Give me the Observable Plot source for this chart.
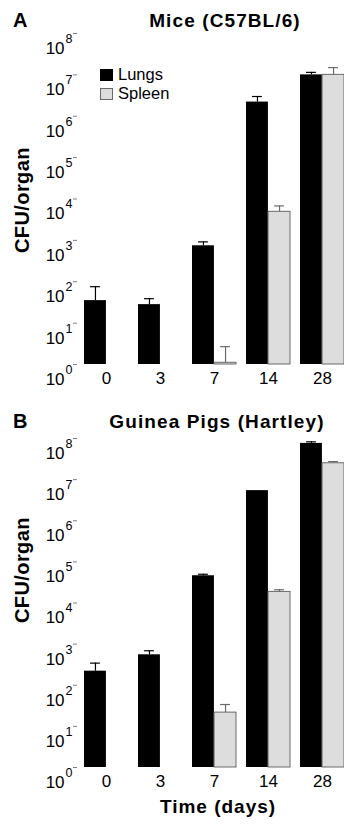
<!DOCTYPE html>
<html>
<head>
<meta charset="utf-8">
<script src="https://cdn.jsdelivr.net/npm/d3@7"></script>
<script src="https://cdn.jsdelivr.net/npm/@observablehq/plot@0.6"></script>
<style>
  body { margin: 0; background: #fff; }
  #wrap { position: relative; width: 344px; height: 825px; overflow: hidden; font-family: "Liberation Sans", Arial, Helvetica, sans-serif; color: #000; }
  .abs { position: absolute; white-space: nowrap; }
  .title { font-weight: bold; font-size: 19px; line-height: 19px; letter-spacing: 1.1px; transform: translateX(-50%); }
  .letter { font-weight: bold; font-size: 20px; line-height: 20px; }
  .ylab { font-weight: bold; font-size: 20px; line-height: 20px; letter-spacing: 0.4px; transform: rotate(-90deg); transform-origin: 0 0; }
  .leg { font-size: 16.5px; line-height: 19px; }
  .sw { display: inline-block; width: 13px; height: 12px; margin-right: 5px; vertical-align: -1px; box-sizing: border-box; }
</style>
</head>
<body>
<div id="wrap"></div>
<script>
// ---- data ----
const days = ["0", "3", "7", "14", "28"];
const tickValues = [1, 10, 100, 1e3, 1e4, 1e5, 1e6, 1e7, 1e8];

// Mice (C57BL/6)
const miceLungs     = [35, 28, 740, 2.2e6, 1.0e7];
const miceLungsErr  = [76, 39, 920, 3.0e6, 1.15e7];
const miceSpleen    = [null, null, 1.1, 4.9e3, 1.0e7];
const miceSpleenErr = [null, null, 2.7, 6.8e3, 1.5e7];

// Guinea Pigs (Hartley)
const gpLungs     = [220, 550, 4.6e4, 5.4e6, 7.6e7];
const gpLungsErr  = [345, 690, 5.0e4, null, 8.3e7];
const gpSpleen    = [null, null, 21.6, 1.86e4, 2.5e7];
const gpSpleenErr = [null, null, 34, 2.1e4, 2.75e7];

// ---- layout ----
const W = 344, ML = 77, MR = 0;
const PI = 0.185, PO = 0.056;
const bw = d3.scaleBand().domain(days).range([ML, W - MR]).paddingInner(PI).paddingOuter(PO).align(1).bandwidth();
const capHalf = 5;
const FONT = '"Liberation Sans", Arial, Helvetica, sans-serif';

function rows(vals, errs) {
  return days.map((d, i) => ({day: d, v: vals[i], e: errs[i]})).filter(r => r.v != null);
}

function panel(lv, le, sv, se, H, mt, mb) {
  const L = rows(lv, le), S = rows(sv, se);
  const Le = L.filter(r => r.e != null), Se = S.filter(r => r.e != null);
  const p = Plot.plot({
    width: W, height: H,
    marginLeft: ML, marginRight: MR, marginTop: mt, marginBottom: mb,
    style: {fontFamily: FONT, background: "white", overflow: "visible"},
    x: {type: "band", domain: days, paddingInner: PI, paddingOuter: PO, align: 1},
    y: {type: "log", domain: [1, 1e8]},
    marks: [
      Plot.barY(L, {x: "day", y1: d => 1, y2: "v", fill: "black", insetRight: bw / 2}),
      Plot.barY(S, {x: "day", y1: d => 1, y2: "v", fill: "#dddddd", stroke: "#6a6a6a", strokeWidth: 1, insetLeft: bw / 2}),
      Plot.ruleX(Le, {x: "day", y1: "v", y2: "e", dx: -bw / 4, stroke: "black", strokeWidth: 1.2}),
      Plot.tickY(Le, {x: "day", y: "e", stroke: "black", strokeWidth: 1.2, insetLeft: bw / 4 - capHalf, insetRight: 3 * bw / 4 - capHalf}),
      Plot.ruleX(Se, {x: "day", y1: "v", y2: "e", dx: bw / 4, stroke: "#6a6a6a", strokeWidth: 1.2}),
      Plot.tickY(Se, {x: "day", y: "e", stroke: "#6a6a6a", strokeWidth: 1.2, insetLeft: 3 * bw / 4 - capHalf, insetRight: bw / 4 - capHalf}),
      Plot.axisY({ticks: tickValues, tickFormat: d => String(Math.round(Math.log10(d))), tickSize: 4, tickPadding: 1, fontSize: 17, stroke: "#808080", fill: "black", label: null, line: true}),
      Plot.axisX({tickSize: 0, tickPadding: 7, fontSize: 17, stroke: "#808080", fill: "black", label: null, line: true})
    ]
  });
  // superscript exponent tick labels: 10^n
  p.querySelectorAll('[aria-label="y-axis tick label"] text').forEach(t => {
    const ex = t.textContent;
    t.textContent = "";
    t.removeAttribute("dy");
    t.style.fontFamily = FONT;
    const a = document.createElementNS("http://www.w3.org/2000/svg", "tspan");
    a.setAttribute("dy", "15");
    a.setAttribute("font-size", "17");
    a.style.fontSize = "17px";
    a.textContent = "10";
    const b = document.createElementNS("http://www.w3.org/2000/svg", "tspan");
    b.setAttribute("dy", "-11");
    b.setAttribute("dx", "1");
    b.setAttribute("font-size", "12.5");
    b.style.fontSize = "12.5px";
    b.textContent = ex;
    t.appendChild(a); t.appendChild(b);
  });
  p.querySelectorAll('[aria-label="x-axis tick label"] text').forEach(t => { t.style.fontSize = "17px"; });
  return p;
}

const wrap = document.getElementById("wrap");
function place(el, top) { el.style.position = "absolute"; el.style.left = "0px"; el.style.top = top + "px"; wrap.appendChild(el); }
function div(cls, text, css) { const d = document.createElement("div"); d.className = "abs " + cls; d.textContent = text; Object.assign(d.style, css); wrap.appendChild(d); return d; }

place(panel(miceLungs, miceLungsErr, miceSpleen, miceSpleenErr, 400, 33, 36), 0);
place(panel(gpLungs, gpLungsErr, gpSpleen, gpSpleenErr, 425, 38, 58), 400);

// titles and letters
div("letter", "A", {left: "13px", top: "10px"});
div("title", "Mice (C57BL/6)", {left: "225px", top: "11px"});
div("letter", "B", {left: "13px", top: "411px"});
div("title", "Guinea Pigs (Hartley)", {left: "217px", top: "412px"});

// y labels
div("ylab", "CFU/organ", {left: "12px", top: "253px"});
div("ylab", "CFU/organ", {left: "12px", top: "623px"});

// x label
div("title", "Time (days)", {left: "218px", top: "797px", letterSpacing: "1px"});

// legend (panel A)
const leg = document.createElement("div");
leg.className = "abs leg";
leg.style.left = "100px"; leg.style.top = "65px";
leg.innerHTML =
  '<div><span class="sw" style="background:#000"></span>Lungs</div>' +
  '<div><span class="sw" style="background:#dddddd;border:1px solid #6a6a6a"></span>Spleen</div>';
wrap.appendChild(leg);
</script>
</body>
</html>
